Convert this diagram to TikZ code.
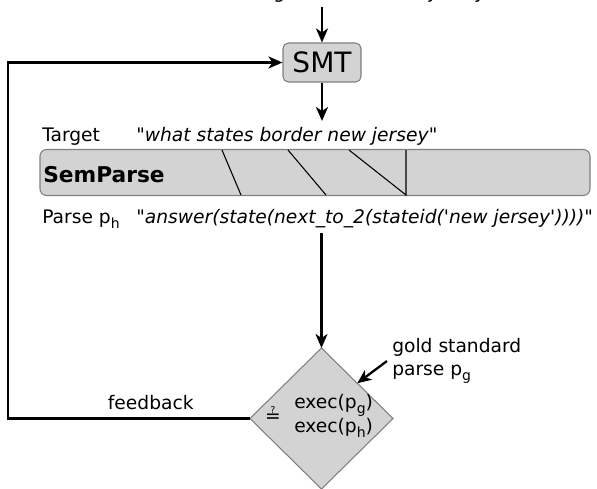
\documentclass[tikz,border=0pt]{standalone}
\usepackage{fontspec}
\setmainfont{DejaVu Sans}
\usetikzlibrary{shapes.geometric,arrows.meta}
\definecolor{boxfill}{RGB}{211,211,211}
\definecolor{boxline}{RGB}{128,128,128}
\tikzstyle{grey box}=[draw=boxline, fill=boxfill, line width=0.8pt, rounded corners=4pt, inner sep=0pt]
\tikzstyle{flow}=[line width=1.7pt, -{Stealth[length=10.5pt,width=9pt,inset=3pt]}]
\tikzstyle{txt}=[anchor=base west, inner sep=0pt]
\newcommand{\psub}[1]{p\raisebox{-0.5ex}{\fontsize{10.5}{10}\selectfont #1}}
\newcommand{\qq}{\textquotedbl}

\begin{document}
\begin{tikzpicture}[x=0.75pt, y=-0.75pt, font=\fontsize{14}{17.25}\selectfont]
\useasboundingbox (0,0) rectangle (597,489);
\clip (0,0) rectangle (597,489);
% source sentence, cut off by the top edge
\node[txt] (query) at (118,-1.2) {\qq\textit{welche staaten grenzen an new jersey}\qq};
\node[grey box, minimum width=58.5pt, minimum height=29.25pt, font=\fontsize{21}{25}\selectfont] (smt) at (322,62.5) {SMT};
\node[txt] (target) at (42,141) {Target};
\node[txt] (targettext) at (136,141) {\qq\textit{what states border new jersey}\qq};
\node[grey box, rounded corners=5pt, minimum width=412.5pt, minimum height=34.5pt] (semparse) at (315,172.5) {};
\node[txt, font=\bfseries\fontsize{16.3}{19}\selectfont] (semlabel) at (43,182) {SemParse};
\node[txt] (parse) at (42,223) {Parse \psub{h}};
\node[txt] (parsetext) at (136,223) {\qq\textit{answer(state(next\_to\_2(stateid(\textquotesingle new jersey\textquotesingle))))}\qq};
\node[diamond, draw=boxline, fill=boxfill, line width=0.8pt, minimum width=107.25pt, minimum height=105.75pt, inner sep=0pt, outer sep=0pt] (check) at (321.5,418.5) {};
\node[inner sep=0pt] (eq) at (273,415) {≟};
\node[anchor=west, inner sep=0pt] (execg) at (294,405) {exec(\psub{g})};
\node[anchor=west, inner sep=0pt] (exech) at (294,428) {exec(\psub{h})};
\node[anchor=north west, align=left, inner sep=0pt] (gold) at (392,338) {gold standard\\parse \psub{g}};
% free ends of the connectors
\coordinate (in) at (322,7);
\coordinate (out) at (322,121);
\coordinate (phead) at (321.5,233);
\coordinate (goldtail) at (387,361);
\coordinate (fbcorner) at (8,418.5);
% alignment strokes
\draw[line width=0.8pt] (222,150) -- (241,195);
\draw[line width=0.8pt] (288,150) -- (326,195);
\draw[line width=0.8pt] (349,150) -- (406,195) -- (406,150);
\draw[flow] (in) -- (smt.north);
\draw[flow] (smt.south) -- (out);
\draw[flow] (phead) -- (check.north);
\draw[flow] (goldtail) -- (check.north east);
\draw[flow] (check.west) -- node[above=2pt, pos=0.41] (fb) {feedback} (fbcorner) |- (smt.west);
\end{tikzpicture}
\end{document}
